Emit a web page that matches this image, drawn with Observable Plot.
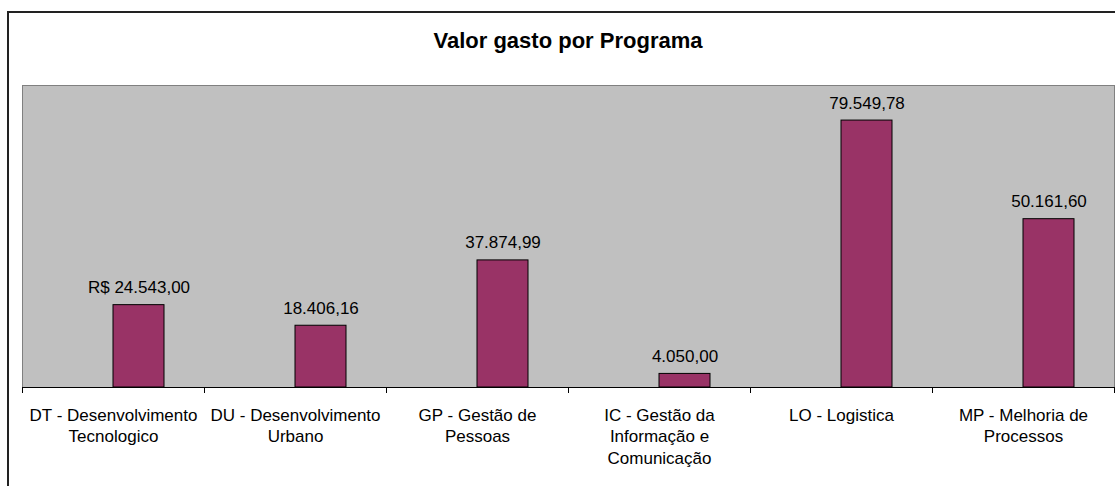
<!DOCTYPE html>
<html><head><meta charset="utf-8">
<script src="https://cdn.jsdelivr.net/npm/d3@7"></script>
<script src="https://cdn.jsdelivr.net/npm/@observablehq/plot@0.6"></script>
<style>
body{margin:0;background:#fff;}
#wrap{position:relative;width:1115px;height:486px;overflow:hidden;font-family:"Liberation Sans",Arial,sans-serif;}
#frame{position:absolute;left:7px;top:11px;width:1300px;height:700px;border:2px solid #222;box-sizing:border-box;}
#title{position:absolute;left:22px;width:1092px;top:30px;text-align:center;font-weight:bold;font-size:22px;line-height:22px;color:#000;}
#chart{position:absolute;left:0;top:0;}
</style></head>
<body><div id="wrap"><div id="frame"></div><div id="title">Valor gasto por Programa</div><div id="chart"></div></div>
<script>
const categories = [
  "DT - Desenvolvimento Tecnologico",
  "DU - Desenvolvimento Urbano",
  "GP - Gestão de Pessoas",
  "IC - Gestão da Informação e Comunicação",
  "LO - Logistica",
  "MP - Melhoria de Processos"
];
const tickLabels = [
  "DT - Desenvolvimento\nTecnologico",
  "DU - Desenvolvimento\nUrbano",
  "GP - Gestão de\nPessoas",
  "IC - Gestão da\nInformação e\nComunicação",
  "LO - Logistica",
  "MP - Melhoria de\nProcessos"
];
const values = [24543.00, 18406.16, 37874.99, 4050.00, 79549.78, 50161.60];
const valueLabels = ["R$ 24.543,00", "18.406,16", "37.874,99", "4.050,00", "79.549,78", "50.161,60"];
const yDomain = [0, 90000];

const data = categories.map((c, i) => ({category: c, value: values[i], label: valueLabels[i]}));
const W = 1115, H = 486, mL = 22, mR = 1, mT = 85, mB = 99;
const bw = (W - mL - mR) / categories.length;
const barW = 51;
const last = categories[categories.length - 1];

const chart = Plot.plot({
  width: W, height: H,
  marginLeft: mL, marginRight: mR, marginTop: mT, marginBottom: mB,
  x: {domain: categories, padding: 0, label: null},
  y: {domain: yDomain, axis: null},
  style: {fontFamily: "'Liberation Sans', Arial, sans-serif", fontSize: "17px", background: "transparent", overflow: "visible", color: "#000"},
  marks: [
    Plot.frame({fill: "#c0c0c0", stroke: "#808080", strokeWidth: 1}),
    Plot.barY(data, {x: "category", y: "value", fill: "#993366", stroke: "#000", strokeWidth: 1,
      insetLeft: bw / 2, insetRight: bw / 2 - barW}),
    Plot.ruleY([0], {stroke: "#000", strokeWidth: 1}),
    Plot.ruleX(categories, {x: d => d, dx: -bw / 2, y1: 0, y2: 0, insetBottom: -6, stroke: "#000"}),
    Plot.ruleX([last], {x: d => d, dx: bw / 2, y1: 0, y2: 0, insetBottom: -6, stroke: "#000"}),
    Plot.axisX({tickSize: 0, tickPadding: 18, fontSize: 17, lineHeight: 1.26, fill: "#000", label: null,
      tickFormat: d => tickLabels[categories.indexOf(d)]}),
    Plot.text(data, {x: "category", y: "value", text: "label", dx: barW / 2, dy: -12,
      lineAnchor: "bottom", fontSize: 17, fill: "#000"})
  ]
});
document.getElementById("chart").appendChild(chart);
</script>
</body></html>
